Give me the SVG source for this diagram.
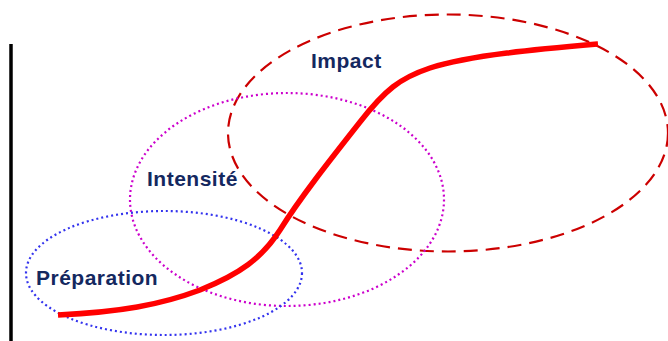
<svg xmlns="http://www.w3.org/2000/svg" width="668" height="341" viewBox="0 0 668 341">
<style>
.lbl{font-family:"Liberation Sans",Arial,sans-serif;font-weight:bold;font-size:21px;fill:#14285f;letter-spacing:0.5px}
.ell{fill:none;stroke-width:2.2}
</style>
<rect width="668" height="341" fill="#fff"/>
<line x1="11" y1="44" x2="11" y2="341" stroke="#000" stroke-width="3.5"/>
<g id="impact">
<ellipse class="ell" cx="448" cy="133" rx="220" ry="118.5" stroke="#cc0000" stroke-width="2.6" stroke-dasharray="14 8"/>
<text class="lbl" x="311" y="68">Impact</text>
</g>
<g id="intensite">
<ellipse class="ell" cx="287" cy="199.5" rx="157" ry="106.5" stroke="#cc00cc" stroke-dasharray="2 3"/>
<text class="lbl" x="147" y="186">Intensité</text>
</g>
<g id="preparation">
<ellipse class="ell" cx="164" cy="273" rx="138" ry="62" stroke="#3333ee" stroke-dasharray="2 3"/>
<text class="lbl" x="36" y="285">Préparation</text>
</g>
<g id="connectors">
<path d="M58 315 C120 312 160 305 200 290 C240 274 262 258 280 230 C300 198 330 160 360 122 C385 90 400 78 430 68 C470 55 540 49 598 44" fill="none" stroke="#ff0000" stroke-width="5.5" stroke-linecap="butt"/>
</g>
</svg>
